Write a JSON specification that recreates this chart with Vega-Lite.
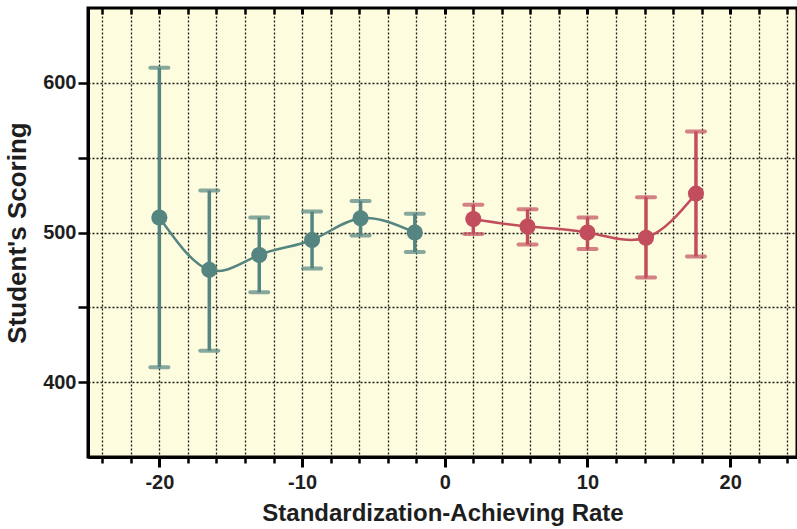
{
  "$schema": "https://vega.github.io/schema/vega-lite/v6.json",
  "width": 709,
  "height": 449,
  "autosize": {"type": "none"},
  "padding": {"left": 88, "top": 8, "right": 0, "bottom": 72},
  "background": "white",
  "config": {
    "view": {"fill": "#fefcdf", "stroke": "black", "strokeWidth": 3},
    "axis": {"labelFont": "Liberation Sans", "titleFont": "Liberation Sans", "labelFontWeight": "bold", "titleFontWeight": "bold", "labelColor": "#1e1e1e", "titleColor": "#1e1e1e", "tickColor": "black", "domainColor": "black"}
  },
  "data": {
    "values": [
      {"group": "neg", "x": -20, "y": 510, "lo": 410, "hi": 610},
      {"group": "neg", "x": -16.5, "y": 475, "lo": 421, "hi": 528},
      {"group": "neg", "x": -13, "y": 485, "lo": 460, "hi": 510},
      {"group": "neg", "x": -9.3, "y": 495, "lo": 476, "hi": 514},
      {"group": "neg", "x": -5.9, "y": 509.5, "lo": 498, "hi": 521},
      {"group": "neg", "x": -2.1, "y": 500, "lo": 487, "hi": 512.5},
      {"group": "pos", "x": 2.0, "y": 509, "lo": 499, "hi": 518.5},
      {"group": "pos", "x": 5.8, "y": 504, "lo": 492, "hi": 515.5},
      {"group": "pos", "x": 10, "y": 500, "lo": 489, "hi": 510},
      {"group": "pos", "x": 14.1, "y": 496.5, "lo": 470, "hi": 523.5},
      {"group": "pos", "x": 17.6, "y": 526, "lo": 484, "hi": 567.5}
    ]
  },
  "encoding": {
    "color": {
      "field": "group", "type": "nominal",
      "scale": {"domain": ["neg", "pos"], "range": ["#548580", "#c24d5c"]},
      "legend": null
    }
  },
  "resolve": {"axis": {"x": "independent"}},
  "layer": [
    {
      "mark": {"type": "line", "interpolate": "natural", "strokeWidth": 2.5},
      "encoding": {
        "x": {
          "field": "x", "type": "quantitative",
          "scale": {"domain": [-25, 24.68], "nice": false, "zero": false},
          "axis": {
            "title": "Standardization-Achieving Rate",
            "titleFontSize": 24, "titlePadding": 9,
            "labelFontSize": 20, "labelPadding": 5,
            "values": [-24,-22,-20,-18,-16,-14,-12,-10,-8,-6,-4,-2,0,2,4,6,8,10,12,14,16,18,20,22,24],
            "labelExpr": "datum.value % 10 === 0 ? ('' + datum.value) : ''",
            "tickSize": {"condition": {"test": "datum.value % 10 === 0", "value": 10}, "value": 6},
            "tickWidth": {"condition": {"test": "datum.value % 10 === 0", "value": 3}, "value": 2.5},
            "domainWidth": 3,
            "grid": true, "gridColor": "#1a1a1a", "gridDash": [2, 2], "gridWidth": 1.3
          }
        },
        "y": {
          "field": "y", "type": "quantitative",
          "scale": {"domain": [350, 650], "nice": false, "zero": false},
          "axis": {
            "title": "Student's Scoring",
            "titleFontSize": 26, "titlePadding": 12,
            "labelFontSize": 20, "labelPadding": 2,
            "values": [400, 450, 500, 550, 600],
            "labelExpr": "datum.value % 100 === 0 ? datum.label : ''",
            "tickSize": 10, "tickWidth": 2.5,
            "domainWidth": 3,
            "grid": true, "gridColor": "#1a1a1a", "gridDash": [2, 2], "gridWidth": 1.3
          }
        },
        "detail": {"field": "group"}
      }
    },
    {
      "mark": {"type": "rule", "strokeWidth": 3.5},
      "encoding": {
        "x": {
          "field": "x", "type": "quantitative",
          "axis": {
            "orient": "top", "title": null, "labels": false, "grid": false, "domain": false,
            "offset": -6,
            "values": [-24,-22,-20,-18,-16,-14,-12,-10,-8,-6,-4,-2,0,2,4,6,8,10,12,14,16,18,20,22,24],
            "tickSize": 6,
            "tickWidth": {"condition": {"test": "datum.value % 10 === 0", "value": 3}, "value": 2.5}
          }
        },
        "y": {"field": "lo", "type": "quantitative"},
        "y2": {"field": "hi"}
      }
    },
    {
      "mark": {"type": "tick", "orient": "horizontal", "size": 22, "thickness": 4, "cornerRadius": 2},
      "encoding": {
        "x": {"field": "x", "type": "quantitative", "axis": null},
        "y": {"field": "lo", "type": "quantitative"}
      }
    },
    {
      "mark": {"type": "tick", "orient": "horizontal", "size": 22, "thickness": 4, "cornerRadius": 2},
      "encoding": {
        "x": {"field": "x", "type": "quantitative", "axis": null},
        "y": {"field": "hi", "type": "quantitative"}
      }
    },
    {
      "mark": {"type": "point", "filled": true, "shape": "circle", "size": 260, "opacity": 1},
      "encoding": {
        "x": {"field": "x", "type": "quantitative", "axis": null},
        "y": {"field": "y", "type": "quantitative"}
      }
    }
  ]
}
